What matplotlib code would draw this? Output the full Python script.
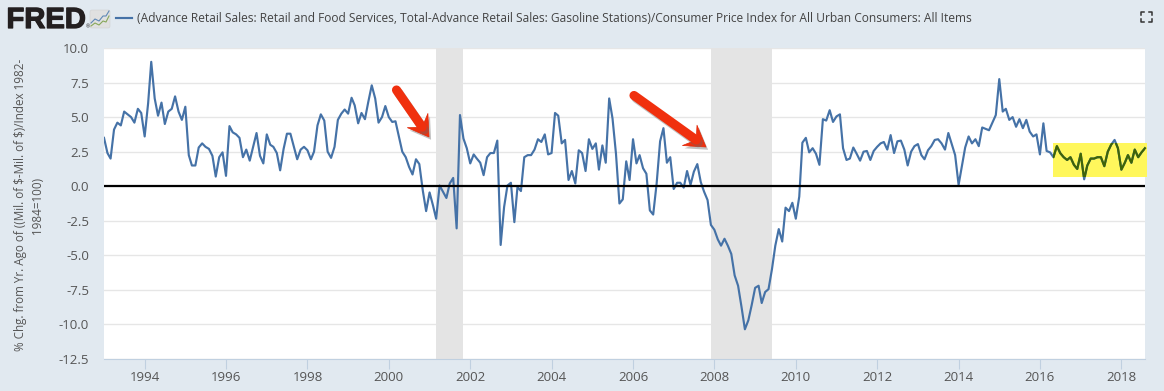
import matplotlib
matplotlib.use('Agg')
import matplotlib.pyplot as plt
import matplotlib.dates as mdates
import matplotlib.patheffects as pe
from matplotlib.patches import FancyBboxPatch, Polygon, Rectangle
import pandas as pd


W, H = 1164, 391
BG = '#E1E9F0'
TEXT = '#555555'

TITLE = ('(Advance Retail Sales: Retail and Food Services, Total-Advance Retail Sales: '
         'Gasoline Stations)/Consumer Price Index for All Urban Consumers: All Items')
Y_LABEL = '% Chg. from Yr. Ago of ((Mil. of \\$-Mil. of \\$)/Index 1982-\n1984=100)'

y_ticks = [10.0, 7.5, 5.0, 2.5, 0.0, -2.5, -5.0, -7.5, -10.0, -12.5]
x_tick_years = [1994, 1996, 1998, 2000, 2002, 2004, 2006, 2008, 2010, 2012, 2014, 2016, 2018]

recession_starts = ['2001-03-01', '2007-12-01']
recession_ends = ['2001-11-01', '2009-06-01']

values_1990s = [
    3.5, 2.4, 2.0, 4.1, 4.6, 4.4, 5.4, 5.2, 5.0, 4.6, 5.6, 5.3,
    3.6, 6.0, 9.0, 6.35, 5.1, 6.05, 4.5, 5.4, 5.6, 6.5, 5.4, 4.8,
    5.75, 2.25, 1.5, 1.5, 2.8, 3.1, 2.85, 2.7, 2.2, 0.7, 2.1, 2.45,
    0.75, 4.35, 3.9, 3.75, 3.5, 2.1, 2.65, 1.85, 2.85, 3.85, 2.2, 1.65,
    3.75, 3.0, 2.85, 2.4, 1.15, 2.7, 3.8, 3.8, 2.85, 1.95, 2.65, 2.85,
    2.6, 1.95, 2.5, 4.4, 5.2, 4.75, 2.5, 2.05, 2.85, 4.8, 5.25, 5.55,
    5.25, 6.4, 5.85, 4.55, 5.3, 4.85, 6.1, 7.3, 6.35, 4.6, 5.0, 5.8,
]
values_2000s = [
    5.0, 4.65, 4.7, 3.6, 2.5, 2.1, 1.4, 0.85, 1.95, 1.6, -0.3, -1.8,
    -0.45, -1.4, -2.35, 0.05, -0.4, -0.85, 0.2, 0.6, -3.05, 5.15, 3.45, 2.75,
    1.65, 2.3, 2.0, 1.7, 0.8, 2.1, 2.4, 2.4, 3.3, -4.25, -1.5, 0.05,
    0.25, -2.6, -0.05, -0.35, 2.1, 2.25, 2.25, 2.65, 3.4, 3.2, 3.75, 2.3,
    2.4, 5.3, 5.1, 3.1, 3.35, 0.45, 1.1, 0.2, 2.6, 2.4, 1.1, 3.4,
    2.7, 3.1, 1.2, 2.95, 1.7, 6.35, 4.9, 2.35, -1.25, -0.95, 1.8, 0.45,
    3.4, 1.65, 2.25, 1.3, 0.9, -1.75, -2.05, 0.2, 3.25, 4.2, 1.7, 2.1,
    -0.2, 0.25, 0.25, -0.1, 1.1, 0.1, 1.05, 1.6, 0.3, -0.4, -1.0, -2.8,
    -3.15, -3.85, -4.3, -3.8, -4.3, -4.9, -6.45, -7.2, -8.75, -10.35, -9.7, -8.6,
    -7.35, -7.2, -8.45, -7.65, -7.45, -6.0, -4.3, -3.1, -4.0, -1.55, -1.8, -1.2,
]
values_2010s = [
    -2.35, -0.75, 3.15, 3.5, 2.45, 2.75, 2.35, 1.55, 4.85, 4.75, 5.5, 4.65,
    5.05, 5.2, 2.75, 1.9, 2.0, 2.8, 2.35, 1.85, 2.5, 2.55, 1.9, 2.55,
    2.85, 3.1, 3.2, 2.65, 3.7, 2.4, 3.25, 3.3, 2.65, 1.5, 2.5, 2.9,
    3.05, 2.25, 1.95, 2.6, 2.9, 3.35, 3.4, 3.1, 2.65, 3.85, 3.05, 2.25,
    0.1, 1.5, 2.8, 3.6, 3.1, 3.4, 2.9, 4.25, 4.15, 4.05, 4.6, 5.15,
    7.75, 5.4, 5.6, 4.8, 5.0, 4.3, 4.85, 4.2, 4.8, 3.95, 3.6, 3.75,
    2.3, 4.55, 2.55, 2.45, 2.1, 2.9, 2.4, 2.1, 1.9, 2.1, 1.55, 1.25,
    2.35, 0.5, 1.5, 2.0, 2.0, 2.1, 2.1, 1.45, 2.5, 3.0, 3.35, 2.75,
    1.2, 1.7, 2.25, 1.7, 2.65, 2.1, 2.45, 2.75,
]

values = values_1990s + values_2000s + values_2010s
dates = pd.date_range('1993-01-01', periods=len(values), freq='MS')

plt.rcParams['font.family'] = ['Open Sans', 'DejaVu Sans']

fig = plt.figure(figsize=(W / 100, H / 100), dpi=100, facecolor=BG)
ax = fig.add_axes([104 / W, 1 - 359 / H, (1145 - 104) / W, (359 - 48) / H])

# ---------- Chart ----------
for start, end in zip(recession_starts, recession_ends):
    ax.axvspan(pd.Timestamp(start), pd.Timestamp(end), color='#E4E4E4', lw=0, zorder=1)

ax.plot(dates, values, color='#4572A7', lw=1.55, zorder=3, solid_joinstyle='round')
ax.axhline(0, color='black', lw=1.6, zorder=4)

ax.set_xlim(dates[0], dates[-1])
ax.set_ylim(-12.5, 10)
ax.set_yticks(y_ticks)
ax.set_yticklabels([f'{v:.1f}' for v in y_ticks])
ax.set_xticks([mdates.date2num(pd.Timestamp(f'{y}-01-01')) for y in x_tick_years])
ax.set_xticklabels([str(y) for y in x_tick_years])

ax.grid(axis='y', color='#E6E6E6', lw=1.0, zorder=0)
ax.set_axisbelow(True)
ax.tick_params(axis='y', length=0, pad=10.8, labelsize=9.5, labelcolor=TEXT)
ax.tick_params(axis='x', length=7, width=0.8, color='#C0D0E0', pad=1.8, labelsize=9.5, labelcolor=TEXT)
for name in ['top', 'left', 'right']:
    ax.spines[name].set_visible(False)
ax.spines['bottom'].set_color('#C0D0E0')
ax.spines['bottom'].set_linewidth(0.8)

# ---------- Overlay drawn in pixel coordinates ----------
over = fig.add_axes([0, 0, 1, 1], facecolor='none')
over.set_xlim(0, W)
over.set_ylim(H, 0)
over.axis('off')

# yellow highlight, the line inside it reads dark green
box = Rectangle((1053, 143), 94, 34, facecolor='#FFF75C', edgecolor='none', zorder=2)
ax.add_patch(Rectangle((1053, 143), 94, 34, facecolor='#FFF75C', edgecolor='none',
                       transform=over.transData, clip_on=False, zorder=2))
box.set_transform(over.transData)
green, = ax.plot(dates, values, color='#3F6405', lw=1.55, zorder=3.5)
green.set_clip_path(box)


# red arrows: rounded shaft, swept back head
def red_arrow(tail, tip):
    dx, dy = tip[0] - tail[0], tip[1] - tail[1]
    length = (dx * dx + dy * dy) ** 0.5
    ux, uy = dx / length, dy / length
    nx, ny = -uy, ux
    neck = (tip[0] - 12 * ux, tip[1] - 12 * uy)
    over.plot([tail[0], neck[0]], [tail[1], neck[1]], color='#F0300E', lw=6.6, solid_capstyle='round',
              path_effects=[pe.SimpleLineShadow(offset=(1.5, -2), shadow_color='#666666', alpha=0.4),
                            pe.Normal()])
    over.add_patch(Polygon(
        [tip,
         (tip[0] - 20 * ux + 12.5 * nx, tip[1] - 20 * uy + 12.5 * ny),
         neck,
         (tip[0] - 20 * ux - 12.5 * nx, tip[1] - 20 * uy - 12.5 * ny)],
        closed=True, facecolor='#F0300E', edgecolor='#E02A0A', lw=0.5, joinstyle='round',
        path_effects=[pe.SimplePatchShadow(offset=(1.5, -2), shadow_rgbFace='#666666', alpha=0.4),
                      pe.Normal()]))


red_arrow((396.5, 90), (429, 137))
red_arrow((634, 95.5), (706, 147))

# logo
over.text(6.5, 28, 'FRED', family='Liberation Sans', weight='bold', fontsize=21, color='#231F20',
          va='baseline', ha='left',
          path_effects=[pe.withStroke(linewidth=0.9, foreground='#231F20')])
over.text(85.5, 28.5, '®', fontsize=3.5, color='#231F20', va='baseline')
over.add_patch(FancyBboxPatch((90, 10), 20, 18, boxstyle='round,pad=0,rounding_size=2',
                              facecolor='#E0E0E0', edgecolor='#D0D0D0', lw=0.4))
over.plot([91, 95, 99, 103, 106, 109], [23, 19, 21, 16, 16, 11], color='#5F88B5', lw=0.8)
over.plot([91, 95, 99, 103, 106, 109], [26, 23, 25, 21, 22, 16], color='#88A85A', lw=0.8)

# legend and title
over.plot([116, 132], [18, 18], color='#4572A7', lw=1.55)
over.text(137, 18.5, TITLE, fontsize=8.68, color='#444444', va='center', ha='left')

# y axis title
over.text(29.5, 205, Y_LABEL, fontsize=8.37, color=TEXT, rotation=90, va='center', ha='center',
          multialignment='center', linespacing=1.4)

# fullscreen icon
for x, y, dx, dy in [(1141, 12, 1, 1), (1151.5, 12, -1, 1), (1141, 21.5, 1, -1), (1151.5, 21.5, -1, -1)]:
    over.plot([x + 3 * dx, x, x], [y, y, y + 3 * dy], color='#333333', lw=1.1)

fig.savefig('out.png', dpi=100, facecolor=BG)
